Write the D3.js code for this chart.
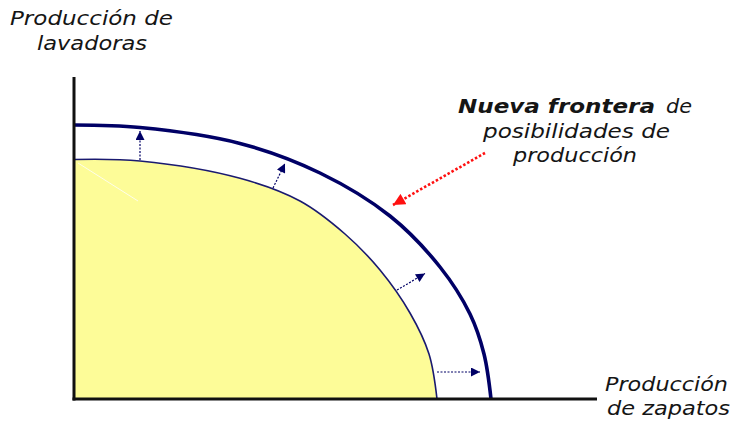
<!DOCTYPE html>
<html><head><meta charset="utf-8">
<script src="https://cdn.jsdelivr.net/npm/d3@7"></script>
<style>
html,body{margin:0;padding:0;background:#fff;}
svg{display:block;}
text{font-family:"DejaVu Sans",Verdana,sans-serif;font-style:italic;fill:#151515;}
</style></head>
<body>
<svg id="c" width="734" height="423"></svg>
<script>
// Data (units: production of shoes on x, washing machines on y)
const oldX = [0, 66, 166, 226, 271, 306, 336, 355, 363];
const oldY = [239.5, 238, 220.7, 198, 165, 129, 86, 45, 0];
const newX = [0, 66, 166, 246, 316, 366, 396, 410, 417];
const newY = [274, 271.5, 255.6, 226, 183, 132, 85, 45, 0];
// shift arrows: start (on old frontier) -> end (towards new frontier)
const arrowX0 = [66, 199, 323, 363];
const arrowY0 = [239, 211, 109, 27];
const arrowX1 = [66, 211, 351, 406];
const arrowY1 = [268, 235.5, 125.5, 27];
// annotation pointer
const noteX = [411, 319];
const noteY = [246, 194];
const yLabel = ["Producción de", "lavadoras"];
const xLabel = ["Producción", "de zapatos"];
const noteLines = ["posibilidades de", "producción"];

const svg = d3.select("#c");
const x = d3.scaleLinear().domain([0, 523]).range([74, 597]);
const y = d3.scaleLinear().domain([0, 322]).range([399, 77]);

const defs = svg.append("defs");
defs.append("marker").attr("id","nav").attr("viewBox","0 0 10 10").attr("refX",10).attr("refY",5)
  .attr("markerWidth",10).attr("markerHeight",9).attr("markerUnits","userSpaceOnUse").attr("orient","auto")
  .append("path").attr("d","M0,0L10,5L0,10Z").attr("fill","#000066");
defs.append("marker").attr("id","red").attr("viewBox","0 0 10 10").attr("refX",10).attr("refY",5)
  .attr("markerWidth",13).attr("markerHeight",12).attr("markerUnits","userSpaceOnUse").attr("orient","auto")
  .append("path").attr("d","M0,0L10,5L0,10Z").attr("fill","#ff1010");

const oldPts = oldX.map((v,i)=>[v, oldY[i]]);
const newPts = newX.map((v,i)=>[v, newY[i]]);
const cv = d3.curveCatmullRom.alpha(0.5);

// yellow area under old frontier
const area = d3.area().x(d=>x(d[0])).y0(y(0)).y1(d=>y(d[1])).curve(cv);
svg.append("path").datum(oldPts).attr("d", area).attr("fill","#fdfc98");

// faint white streak
svg.append("line").attr("x1",x(4)).attr("y1",y(236)).attr("x2",x(64)).attr("y2",y(198))
  .attr("stroke","#fff").attr("stroke-width",1).attr("opacity",0.8);

const line = d3.line().x(d=>x(d[0])).y(d=>y(d[1])).curve(cv);
svg.append("path").datum(oldPts).attr("d", line).attr("fill","none")
  .attr("stroke","#1a1a70").attr("stroke-width",1.6);
svg.append("path").datum(newPts).attr("d", line).attr("fill","none")
  .attr("stroke","#000066").attr("stroke-width",3.6);

// axes
svg.append("line").attr("x1",x(0)).attr("x2",x(0)).attr("y1",y(322)).attr("y2",y(0)+1.5)
  .attr("stroke","#111").attr("stroke-width",3);
svg.append("line").attr("x1",x(0)-1.5).attr("x2",x(523)).attr("y1",y(0)).attr("y2",y(0))
  .attr("stroke","#111").attr("stroke-width",3);

// shift arrows
arrowX0.forEach((v,i)=>{
  svg.append("line").attr("x1",x(v)).attr("y1",y(arrowY0[i])).attr("x2",x(arrowX1[i])).attr("y2",y(arrowY1[i]))
    .attr("stroke","#000066").attr("stroke-width",1.2).attr("stroke-dasharray","2,1.5")
    .attr("marker-end","url(#nav)");
});
// red pointer
svg.append("line").attr("x1",x(noteX[0])).attr("y1",y(noteY[0])).attr("x2",x(noteX[1])).attr("y2",y(noteY[1]))
  .attr("stroke","#ff1010").attr("stroke-width",2.6).attr("stroke-dasharray","2.5,2")
  .attr("marker-end","url(#red)");

// texts
const fs = 20;
function t(str, x0, base, len, bold){
  const el = svg.append("text").attr("x",x0).attr("y",base).attr("font-size",fs)
    .attr("textLength",len).attr("lengthAdjust","spacingAndGlyphs").text(str);
  if(bold) el.attr("font-weight","bold");
  return el;
}
t(yLabel[0], 10, 25, 163);
t(yLabel[1], 37, 50, 110);
t(xLabel[0], 605, 391, 123);
t(xLabel[1], 607, 415, 123);
t("Nueva frontera", 458, 113, 197, true);
t("de", 666, 113, 26);
t(noteLines[0], 483, 138, 187);
t(noteLines[1], 513, 162, 124);
</script>
</body></html>
